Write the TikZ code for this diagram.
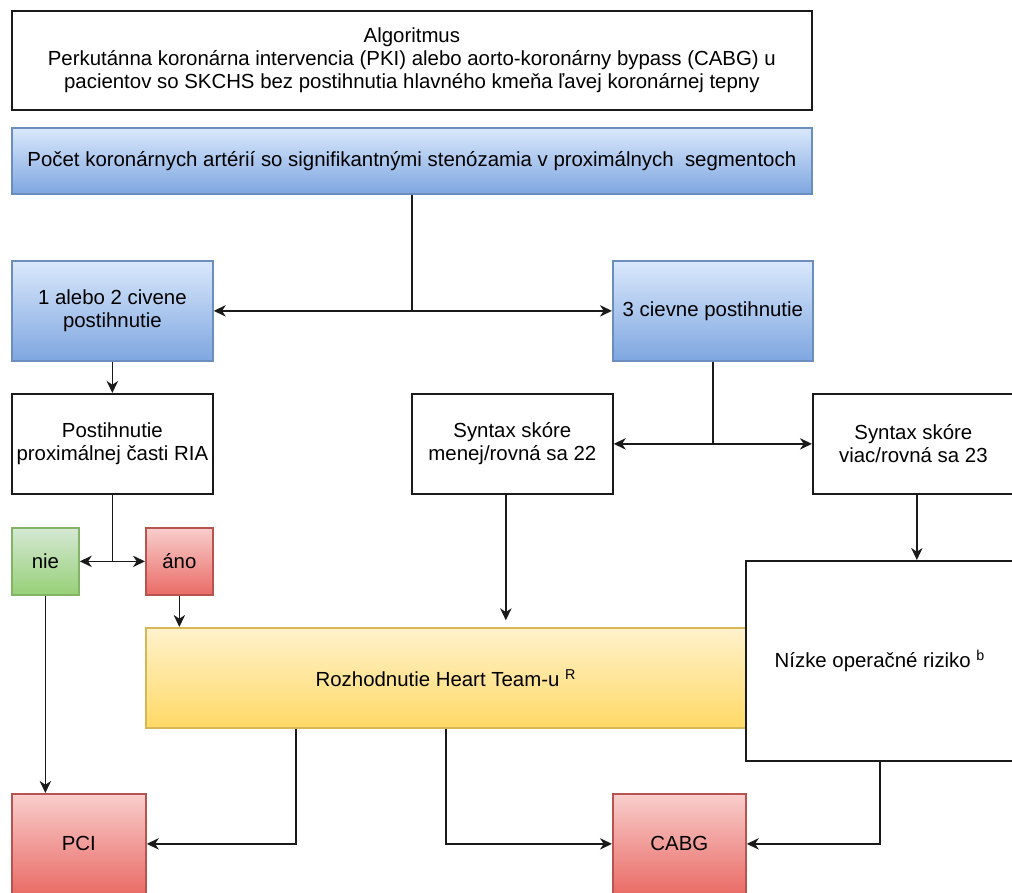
\documentclass[tikz,border=0pt]{standalone}
\usepackage{fontspec}
\setmainfont{Liberation Sans}
\usetikzlibrary{arrows.meta}
\definecolor{blueT}{HTML}{DAE8FC}\definecolor{blueB}{HTML}{7EA6E0}\definecolor{blueD}{HTML}{6C8EBF}
\definecolor{greenT}{HTML}{D5E8D4}\definecolor{greenB}{HTML}{97D077}\definecolor{greenD}{HTML}{82B366}
\definecolor{redT}{HTML}{F8CECC}\definecolor{redB}{HTML}{EA6B66}\definecolor{redD}{HTML}{B85450}
\definecolor{yelT}{HTML}{FFF2CC}\definecolor{yelB}{HTML}{FFD966}\definecolor{yelD}{HTML}{D6B656}
\definecolor{ink}{HTML}{1A1A1A}
\tikzset{
  base/.style={anchor=north west, inner sep=2pt, align=center, text=black,
    font=\fontsize{15.3pt}{17.4pt}\selectfont, line width=1.3pt},
  plain/.style={base, draw=ink, fill=white},
  bluebox/.style={base, draw=blueD, top color=blueT, bottom color=blueB},
  greenbox/.style={base, draw=greenD, top color=greenT, bottom color=greenB},
  redbox/.style={base, draw=redD, top color=redT, bottom color=redB},
  yelbox/.style={base, draw=yelD, top color=yelT, bottom color=yelB},
  arr/.style={draw=ink, line width=1.3pt, -{Stealth[length=9pt,width=8.5pt,inset=2.8pt]}}
}
\begin{document}
\begin{tikzpicture}[x=0.75pt,y=-0.75pt]
\useasboundingbox (0,0) rectangle (1012,892);
\clip (0,0) rectangle (1012,892);
\node[plain, minimum width=600pt, minimum height=74.25pt] (title) at (11,10)
  {Algoritmus\\Perkutánna koronárna intervencia (PKI) alebo aorto-koronárny bypass (CABG) u\\pacientov so SKCHS bez postihnutia hlavného kmeňa ľavej koronárnej tepny};
\node[bluebox, minimum width=600pt, minimum height=49.5pt] (pocet) at (11,127)
  {Počet koronárnych artérií so signifikantnými stenózamia v proximálnych\ \ segmentoch};
\node[bluebox, minimum width=150.75pt, minimum height=75pt] (one2) at (11,260)
  {1 alebo 2 civene\\postihnutie};
\node[bluebox, minimum width=150pt, minimum height=75pt] (three) at (612,260)
  {3 cievne postihnutie};
\node[plain, minimum width=150.75pt, minimum height=75pt] (post) at (11,393)
  {Postihnutie\\proximálnej časti RIA};
\node[plain, minimum width=150.75pt, minimum height=75pt] (synA) at (411,393)
  {Syntax skóre\\menej/rovná sa 22};
\node[plain, minimum width=150.75pt, minimum height=75pt] (synB) at (812,393)
  {Syntax skóre\\viac/rovná sa 23};
\node[greenbox, minimum width=50.25pt, minimum height=50.25pt] (nie) at (11,527) {nie};
\node[redbox, minimum width=50.25pt, minimum height=50.25pt] (ano) at (145,527) {áno};
\node[yelbox, minimum width=450pt, minimum height=75pt] (heart) at (145,627)
  {Rozhodnutie Heart Team-u \textsuperscript{R}};
\node[plain, minimum width=201pt, minimum height=150pt] (nizke) at (745,560)
  {Nízke operačné riziko \textsuperscript{b}};
\node[redbox, minimum width=100.5pt, minimum height=75pt] (pci) at (11,793) {PCI};
\node[redbox, minimum width=99.75pt, minimum height=75pt] (cabg) at (612,793) {CABG};

\draw[arr] (pocet.south) |- (one2.east);
\draw[arr] (pocet.south) |- (three.west);
\draw[arr] (one2.south) -- (post.north);
\draw[arr] (three.south) |- (synA.east);
\draw[arr] (three.south) |- (synB.west);
\draw[arr] (post.south) |- (nie.east);
\draw[arr] (post.south) |- (ano.west);
\draw[arr] (ano.south) -- (ano.south |- heart.north);
\draw[arr] ([xshift=-4.9pt]synA.south) -- ([xshift=-4.9pt,yshift=5pt]synA.south |- heart.north);
\draw[arr] (nie.south) -- (nie.south |- pci.north);
\draw[arr] ([xshift=2.6pt]synB.south) -- ([xshift=2.6pt]synB.south |- nizke.north);
\draw[arr] ([xshift=-112.5pt]heart.south) |- (pci.east);
\draw[arr] (heart.south) |- (cabg.west);
\draw[arr] (nizke.south) |- (cabg.east);
\end{tikzpicture}
\end{document}
